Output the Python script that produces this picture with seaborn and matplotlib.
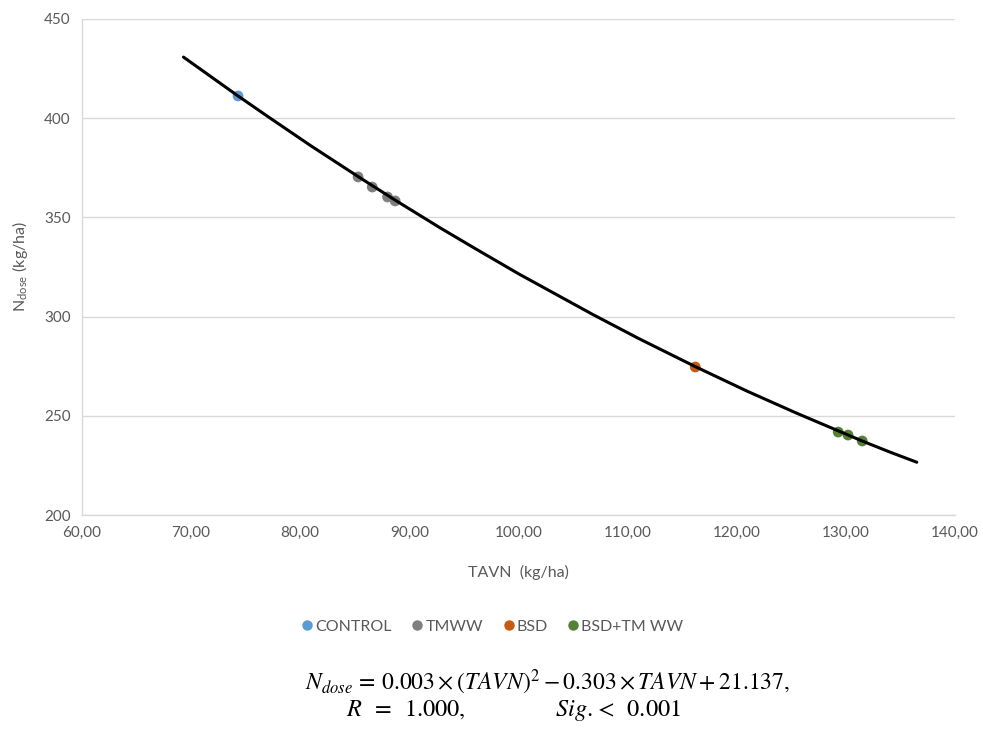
import matplotlib
matplotlib.use("Agg")
import matplotlib.pyplot as plt
import seaborn as sns
import pandas as pd

# ---- data ----
groups = ["CONTROL", "TMWW", "TMWW", "TMWW", "TMWW", "BSD",
          "BSD+TMWW", "BSD+TMWW", "BSD+TMWW"]
tavn = [74.3, 85.3, 86.6, 88.0, 88.7, 116.2, 129.3, 130.2, 131.5]
ndose = [411.2, 370.4, 365.3, 360.3, 358.3, 274.6, 241.8, 240.3, 237.3]

# trend curve points
curve_x = [69.3, 74.3, 77.2, 81.0, 85.3, 88.7, 92.8, 96.0, 100.0, 106.8,
           111.0, 116.2, 121.0, 125.5, 131.5, 134.0, 136.5]
curve_y = [430.8, 411.2, 400.2, 386.0, 370.6, 358.7, 344.8, 334.4, 321.6, 301.1,
           289.0, 274.8, 262.3, 251.3, 237.3, 231.8, 226.6]

legend_labels = ["CONTROL", "TMWW", "BSD", "BSD+TM WW"]
palette = {"CONTROL": "#5B9BD5", "TMWW": "#7F7F7F", "BSD": "#C55A11", "BSD+TMWW": "#548235"}

x_ticks = [60, 70, 80, 90, 100, 110, 120, 130, 140]
y_ticks = [200, 250, 300, 350, 400, 450]

df = pd.DataFrame({"TAVN": tavn, "Ndose": ndose, "group": groups})
curve = pd.DataFrame({"x": curve_x, "y": curve_y})

sns.set_theme(style="white")
plt.rcParams["font.family"] = ["Lato", "DejaVu Sans"]
plt.rcParams["mathtext.fontset"] = "stix"

fig = plt.figure(figsize=(9.83, 7.39), dpi=100)
ax = fig.add_axes([0.0834, 0.3031, 0.9715 - 0.0834, 0.9743 - 0.3031])

sns.scatterplot(data=df, x="TAVN", y="Ndose", hue="group", palette=palette,
                s=60, edgecolor="none", ax=ax, legend=False, zorder=3)
sns.lineplot(data=curve, x="x", y="y", color="black", linewidth=2.2,
             sort=False, estimator=None, ax=ax, zorder=4)

ax.set_xlim(60, 140)
ax.set_ylim(200, 450)
ax.set_xticks(x_ticks)
ax.set_xticklabels([f"{v:.2f}".replace(".", ",") for v in x_ticks])
ax.set_yticks(y_ticks)
ax.tick_params(axis="both", length=0, labelsize=11, labelcolor="#595959", pad=8)
ax.yaxis.grid(True, color="#D9D9D9", linewidth=1)
ax.xaxis.grid(False)
for s in ["top", "right"]:
    ax.spines[s].set_visible(False)
for s in ["left", "bottom"]:
    ax.spines[s].set_color("#D9D9D9")
    ax.spines[s].set_linewidth(1)

ax.set_xlabel("TAVN  (kg/ha)", fontsize=11.5, color="#595959", labelpad=18)
ax.set_ylabel(r"N$_{\mathregular{dose}}$ (kg/ha)", fontsize=11.5, color="#595959", labelpad=10)

# legend
handles = [plt.Line2D([], [], marker="o", linestyle="", markersize=7.5,
                      markerfacecolor=palette[g], markeredgecolor="none")
           for g in ["CONTROL", "TMWW", "BSD", "BSD+TMWW"]]
fig.legend(handles, legend_labels, loc="center", bbox_to_anchor=(0.50, 0.152),
           ncol=4, frameon=False, fontsize=11.5, handlelength=1.0, handletextpad=0.0,
           columnspacing=1.1, labelcolor="#595959")

fig.text(0.557, 0.077,
         r"$N_{dose}\,=\,0.003 \times (TAVN)^2 - 0.303 \times TAVN + 21.137,$",
         ha="center", va="center", fontsize=17, color="black")
fig.text(0.522, 0.039, r"$R\;\;=\;\;1.000,\qquad\qquad\quad Sig.\!<\;\;0.001$",
         ha="center", va="center", fontsize=17.5, color="black")

fig.savefig("out.png", dpi=100)
